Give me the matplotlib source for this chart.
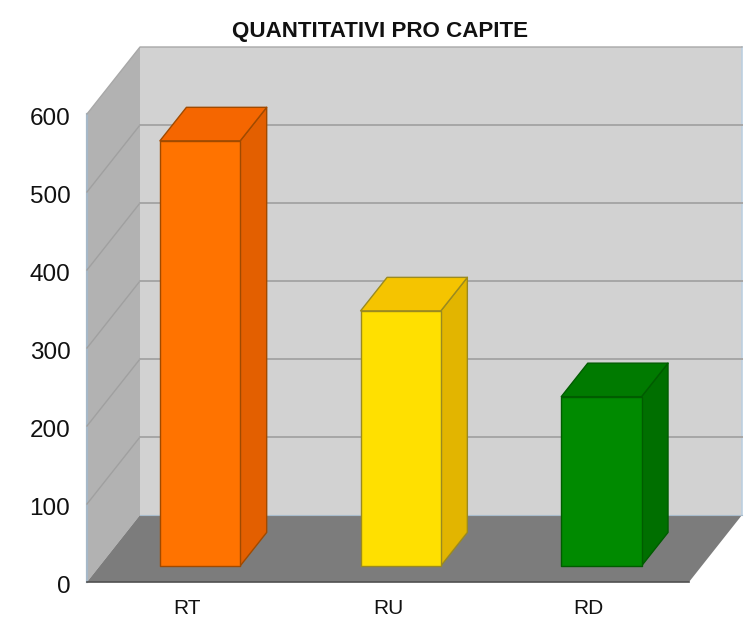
import matplotlib
matplotlib.use("Agg")
import matplotlib.pyplot as plt
from matplotlib.patches import Polygon
from matplotlib.transforms import ScaledTranslation

categories = ["RT", "RU", "RD"]
values = [545, 327, 217]
front_colors = ["#ff7300", "#ffe000", "#008a00"]
top_colors = ["#f56600", "#f5c400", "#007a00"]
side_colors = ["#e35f00", "#e2b500", "#006f00"]
edge_colors = ["#a04a00", "#9a8a20", "#005c00"]
yticks = [0, 100, 200, 300, 400, 500, 600]
title = "QUANTITATIVI PRO CAPITE"

W, H = 747, 619
plt.rcParams["font.family"] = ["Liberation Sans", "DejaVu Sans"]
fig = plt.figure(figsize=(W / 100, H / 100), dpi=100, facecolor="white")
ax = fig.add_axes([87 / W, 1 - 582 / H, 602 / W, 468 / H])
ax.set_xlim(-0.5, 2.5)
ax.set_ylim(0, 600)
ax.patch.set_visible(False)
for s in ax.spines.values():
    s.set_visible(False)

DX = 53 / (602 / 3)     # full chart depth, in category units
DY = 67 / (468 / 600)   # full chart depth, in value units


def P(x, y, d=0.0):
    return (x + DX * d, y + DY * d)


def poly(pts, fc, ec="none", lw=0.0, z=1):
    ax.add_patch(Polygon(pts, closed=True, facecolor=fc, edgecolor=ec,
                         linewidth=lw, zorder=z, clip_on=False, joinstyle="round"))


x0, x1, y0, y1 = -0.5, 2.5, 0, 600
# back wall, side wall, floor
poly([P(x0, y0, 1), P(x1, y0, 1), P(x1, y1, 1), P(x0, y1, 1)], "#d2d2d2", z=1)
poly([P(x0, y0), P(x0, y0, 1), P(x0, y1, 1), P(x0, y1)], "#b2b2b2", z=1)
poly([P(x0, y0), P(x1, y0), P(x1, y0, 1), P(x0, y0, 1)], "#7c7c7c", z=2)

# wall borders
ax.plot(*zip(P(x1, y0, 1), P(x1, y1, 1)), color="#bccfe0", lw=1.2, zorder=2, clip_on=False)
ax.plot(*zip(P(x0, y0), P(x0, y1)), color="#a6b8c8", lw=1.6, zorder=2, clip_on=False)
ax.plot(*zip(P(x0, y1), P(x0, y1, 1), P(x1, y1, 1)), color="#a8a8a8", lw=1.0, zorder=2, clip_on=False)
ax.plot(*zip(P(x0, y0), P(x1, y0)), color="#505050", lw=1.2, zorder=3, clip_on=False)
ax.plot(*zip(P(x0, y0, 1), P(x1, y0, 1)), color="#a8bccc", lw=0.8, zorder=3, clip_on=False)

# gridlines
for v in yticks[1:-1]:
    ax.plot(*zip(P(x0, v), P(x0, v, 1)), color="#a0a0a0", lw=1.0,
            zorder=2, clip_on=False)
    ax.plot(*zip(P(x0, v, 1), P(x1, v, 1)), color="#a6a6a6", lw=1.4,
            zorder=2, clip_on=False)

# bars
half = 0.2
d0, d1 = 0.24, 0.74
for i, v in enumerate(values):
    l, r = i - half, i + half
    fc, tc, sc, ec = front_colors[i], top_colors[i], side_colors[i], edge_colors[i]
    poly([P(r, 0, d0), P(r, 0, d1), P(r, v, d1), P(r, v, d0)], sc, ec, 1.0, 5)
    poly([P(l, v, d0), P(r, v, d0), P(r, v, d1), P(l, v, d1)], tc, ec, 1.0, 5)
    poly([P(l, 0, d0), P(r, 0, d0), P(r, v, d0), P(l, v, d0)], fc, ec, 1.0, 6)

ax.set_xticks(range(len(categories)))
ax.set_xticklabels(categories, fontsize=15, color="#111111")
ax.set_yticks(yticks)
ax.set_yticklabels([str(t) for t in yticks], fontsize=17.5, color="#111111")
ax.tick_params(axis="both", length=0)
ax.tick_params(axis="x", pad=12)
ax.tick_params(axis="y", pad=12)
shift = ScaledTranslation(0, -1.5 / 72, fig.dpi_scale_trans)
for lab in ax.get_yticklabels():
    lab.set_transform(lab.get_transform() + shift)

fig.text(380 / W, 1 - 32 / H, title, ha="center", va="center",
         fontsize=16.1, fontweight="bold", color="#111111")

fig.savefig("out.png", dpi=100)
